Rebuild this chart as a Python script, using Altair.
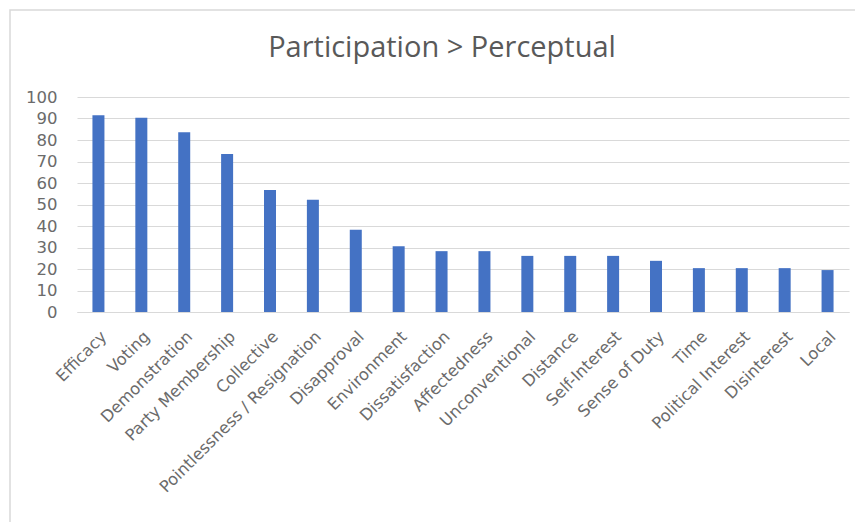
import altair as alt
import pandas as pd

title_text = "Participation > Perceptual"
categories = ["Efficacy", "Voting", "Demonstration", "Party Membership", "Collective",
              "Pointlessness / Resignation", "Disapproval", "Environment", "Dissatisfaction",
              "Affectedness", "Unconventional", "Distance", "Self-Interest", "Sense of Duty",
              "Time", "Political Interest", "Disinterest", "Local"]
values = [91.5, 90.3, 83.6, 73.5, 56.7, 52.2, 38.2, 30.6, 28.3, 28.3, 26.1, 26.1, 26.1,
          23.8, 20.4, 20.4, 20.4, 19.5]
y_ticks = list(range(0, 101, 10))

df = pd.DataFrame({"category": categories, "value": values})

FONT = "Open Sans"
LABEL_FONT = "DejaVu Sans"
GREY = "#595959"
LGREY = "#6b6b6b"

bars = alt.Chart(df).mark_bar(color="#4472C4", size=12).encode(
    x=alt.X("category:N", sort=categories, title=None,
            axis=alt.Axis(labelAngle=-45, labelLimit=300,
                          labelFont=LABEL_FONT, labelFontSize=16.3, labelColor=LGREY,
                          ticks=False, domainColor="#d9d9d9", labelPadding=16)),
    y=alt.Y("value:Q", title=None,
            scale=alt.Scale(domain=[0, 100]),
            axis=alt.Axis(values=y_ticks, labelFont=LABEL_FONT, labelFontSize=16.5,
                          labelColor=LGREY, ticks=False, domain=False,
                          gridColor="#d9d9d9", labelPadding=20)),
)

# light outer frame of the chart box (decoration, not data)
frame = alt.Chart(pd.DataFrame({"k": [0]})).mark_rect(
    fill=None, stroke="#d9d9d9", strokeWidth=1.5, clip=False
).encode(x=alt.value(-67), x2=alt.value(900), y=alt.value(-87), y2=alt.value(600))

title = alt.Chart(pd.DataFrame({"t": [title_text]})).mark_text(
    font=FONT, fontSize=29, color=GREY, align="center", baseline="alphabetic"
).encode(text="t:N", x=alt.value(365), y=alt.value(-40))

chart = alt.layer(frame, bars, title).properties(
    width=772, height=215,
    autosize=alt.AutoSizeParams(type="none"),
    padding={"left": 69, "top": 89, "right": 6, "bottom": 210},
).configure_view(stroke=None)

chart.save("out.html", embed_options={"renderer": "svg", "actions": False})
